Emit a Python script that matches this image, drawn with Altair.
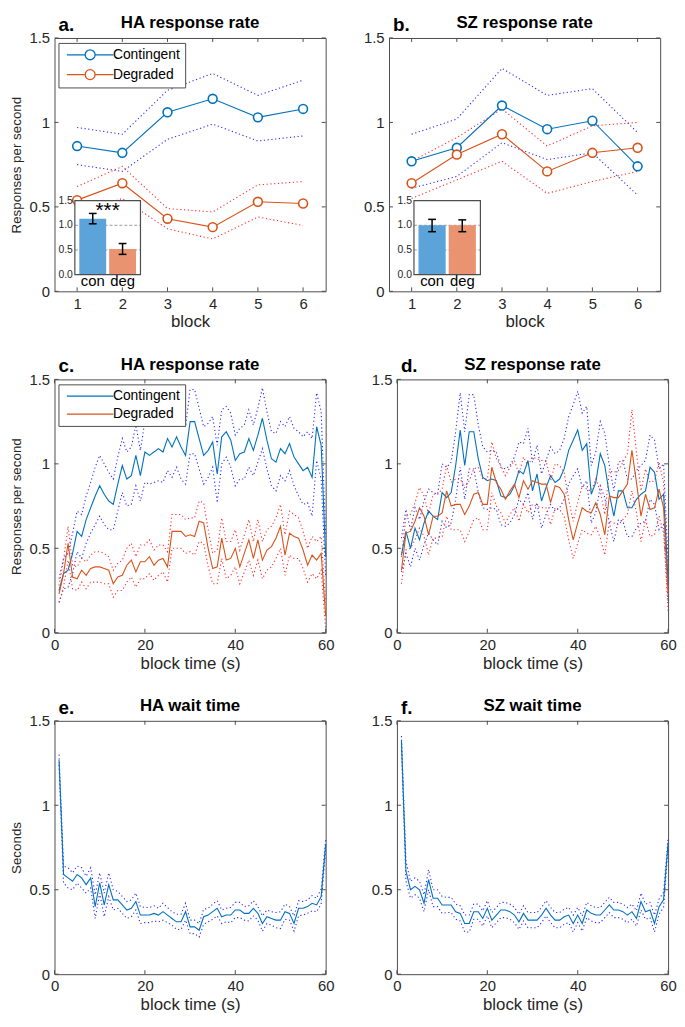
import altair as alt
import pandas as pd

FONT = "Liberation Sans"
INK = "#262626"
FRAME = "#4d4d4d"
BLUE = "#0072BD"
ORANGE = "#D95319"
BAND_BLUE = "#2a2aff"
BAND_RED = "#ff2a2a"
INSET_BLUE = "#5BA3D9"
INSET_ORANGE = "#EA9370"
W, H = 274, 256

# ---------------- data ----------------
blocks = [1, 2, 3, 4, 5, 6]
a_con = [0.86, 0.82, 1.06, 1.14, 1.03, 1.08]
a_con_hi = [0.97, 0.93, 1.19, 1.29, 1.16, 1.25]
a_con_lo = [0.75, 0.71, 0.90, 0.99, 0.89, 0.92]
a_deg = [0.54, 0.64, 0.43, 0.38, 0.53, 0.52]
a_deg_hi = [0.62, 0.74, 0.49, 0.47, 0.63, 0.65]
a_deg_lo = [0.46, 0.55, 0.37, 0.31, 0.44, 0.39]

b_con = [0.77, 0.85, 1.10, 0.96, 1.01, 0.74]
b_con_hi = [0.93, 1.02, 1.32, 1.16, 1.20, 0.94]
b_con_lo = [0.61, 0.68, 0.88, 0.78, 0.82, 0.57]
b_deg = [0.64, 0.81, 0.93, 0.71, 0.82, 0.85]
b_deg_hi = [0.77, 0.91, 1.08, 0.86, 0.98, 1.00]
b_deg_lo = [0.55, 0.66, 0.77, 0.58, 0.65, 0.71]

inset_cats = ["con", "deg"]
a_inset_mean = [1.13, 0.52]
a_inset_lo = [1.03, 0.41]
a_inset_hi = [1.24, 0.63]
b_inset_mean = [1.00, 1.00]
b_inset_lo = [0.87, 0.87]
b_inset_hi = [1.12, 1.11]
inset_ticks = [0.0, 0.5, 1.0, 1.5]
inset_tick_labels = ["0.0", "0.5", "1.0", "1.5"]

seconds = list(range(1, 61))
c_con = [0.25, 0.35, 0.37, 0.47, 0.60, 0.57, 0.67, 0.74, 0.81, 0.87,
         0.82, 0.78, 0.76, 0.88, 0.99, 0.91, 0.93, 1.05, 0.93, 1.07,
         1.05, 1.07, 1.09, 1.07, 1.15, 1.10, 1.16, 1.10, 1.05, 1.25,
         1.25, 1.15, 1.05, 1.08, 1.13, 0.94, 1.16, 1.19, 1.14, 1.02,
         1.06, 1.07, 1.15, 1.08, 1.17, 1.27, 1.14, 1.03, 1.01, 1.09,
         1.06, 1.12, 1.04, 1.00, 0.96, 0.98, 0.92, 1.22, 1.11, 0.45]
c_con_sem = [0.07, 0.09, 0.10, 0.12, 0.12, 0.13, 0.14, 0.15, 0.17, 0.18,
             0.18, 0.17, 0.15, 0.16, 0.16, 0.16, 0.17, 0.18, 0.15, 0.18,
             0.17, 0.18, 0.19, 0.18, 0.19, 0.18, 0.18, 0.19, 0.17, 0.19,
             0.19, 0.18, 0.17, 0.16, 0.15, 0.17, 0.16, 0.15, 0.16, 0.15,
             0.15, 0.16, 0.17, 0.15, 0.16, 0.18, 0.17, 0.16, 0.17, 0.16,
             0.16, 0.16, 0.17, 0.19, 0.20, 0.21, 0.23, 0.20, 0.20, 0.12]
c_deg = [0.23, 0.35, 0.53, 0.33, 0.32, 0.37, 0.34, 0.38, 0.39, 0.39,
         0.38, 0.37, 0.29, 0.33, 0.34, 0.40, 0.43, 0.36, 0.42, 0.42,
         0.45, 0.40, 0.43, 0.44, 0.39, 0.60, 0.60, 0.60, 0.57, 0.58,
         0.57, 0.66, 0.65, 0.50, 0.38, 0.39, 0.56, 0.43, 0.44, 0.50,
         0.39, 0.47, 0.55, 0.44, 0.55, 0.43, 0.49, 0.51, 0.56, 0.63,
         0.46, 0.59, 0.57, 0.56, 0.49, 0.40, 0.46, 0.43, 0.47, 0.10]
c_deg_sem = [0.05, 0.08, 0.10, 0.07, 0.07, 0.07, 0.08, 0.08, 0.09, 0.09,
             0.09, 0.08, 0.08, 0.08, 0.09, 0.10, 0.10, 0.09, 0.10, 0.10,
             0.10, 0.09, 0.09, 0.08, 0.09, 0.10, 0.10, 0.10, 0.10, 0.10,
             0.11, 0.12, 0.12, 0.11, 0.09, 0.10, 0.12, 0.11, 0.10, 0.11,
             0.10, 0.11, 0.12, 0.10, 0.12, 0.11, 0.12, 0.12, 0.12, 0.13,
             0.12, 0.13, 0.13, 0.12, 0.11, 0.10, 0.11, 0.11, 0.10, 0.08]

d_con = [0.46, 0.60, 0.50, 0.62, 0.55, 0.65, 0.72, 0.69, 0.67, 0.83,
         0.80, 0.83, 0.99, 1.20, 0.99, 1.19, 1.19, 1.03, 0.92, 0.90,
         0.91, 0.90, 0.81, 0.80, 0.82, 0.87, 0.96, 0.94, 1.02, 0.84,
         0.94, 0.78, 0.86, 0.93, 0.89, 0.91, 0.97, 1.08, 1.14, 1.20,
         1.08, 1.12, 0.82, 0.89, 1.06, 0.99, 0.82, 0.69, 0.84, 0.84,
         0.74, 0.74, 0.79, 0.82, 0.84, 0.98, 0.95, 0.79, 0.82, 0.30]
d_con_sem = [0.10, 0.13, 0.11, 0.12, 0.12, 0.13, 0.13, 0.14, 0.15, 0.17,
             0.18, 0.18, 0.20, 0.22, 0.20, 0.22, 0.22, 0.20, 0.18, 0.17,
             0.17, 0.17, 0.17, 0.17, 0.17, 0.17, 0.17, 0.18, 0.19, 0.17,
             0.17, 0.16, 0.16, 0.17, 0.17, 0.17, 0.18, 0.20, 0.21, 0.23,
             0.22, 0.22, 0.17, 0.18, 0.19, 0.19, 0.17, 0.15, 0.17, 0.18,
             0.17, 0.17, 0.17, 0.17, 0.18, 0.19, 0.19, 0.18, 0.18, 0.12]
d_deg = [0.37, 0.59, 0.60, 0.66, 0.74, 0.69, 0.58, 0.69, 0.69, 0.71,
         0.84, 0.75, 0.76, 0.76, 0.70, 0.75, 0.82, 0.83, 0.76, 0.76,
         0.98, 0.89, 0.85, 0.79, 0.84, 0.88, 0.80, 0.90, 0.85, 0.90,
         0.89, 0.88, 0.88, 0.77, 0.87, 0.86, 0.82, 0.67, 0.55, 0.65,
         0.74, 0.72, 0.71, 0.77, 0.70, 0.58, 0.81, 0.80, 0.80, 0.84,
         0.88, 1.08, 0.89, 0.69, 0.82, 0.73, 0.74, 0.85, 0.74, 0.23]
d_deg_sem = [0.08, 0.10, 0.10, 0.11, 0.12, 0.12, 0.12, 0.13, 0.13, 0.14,
             0.15, 0.14, 0.15, 0.15, 0.16, 0.15, 0.15, 0.15, 0.15, 0.15,
             0.15, 0.14, 0.14, 0.14, 0.14, 0.14, 0.14, 0.14, 0.14, 0.14,
             0.14, 0.14, 0.14, 0.13, 0.13, 0.13, 0.13, 0.12, 0.11, 0.12,
             0.13, 0.13, 0.13, 0.14, 0.14, 0.12, 0.15, 0.15, 0.16, 0.17,
             0.18, 0.24, 0.18, 0.15, 0.15, 0.16, 0.16, 0.16, 0.15, 0.10]

e_mean = [1.27, 0.59, 0.57, 0.55, 0.59, 0.57, 0.53, 0.57, 0.40, 0.54,
          0.41, 0.53, 0.44, 0.44, 0.41, 0.38, 0.39, 0.43, 0.35, 0.35,
          0.35, 0.36, 0.35, 0.37, 0.35, 0.33, 0.31, 0.31, 0.37, 0.28,
          0.28, 0.26, 0.34, 0.35, 0.37, 0.39, 0.34, 0.35, 0.35, 0.38,
          0.38, 0.36, 0.36, 0.39, 0.36, 0.30, 0.34, 0.33, 0.32, 0.32,
          0.37, 0.36, 0.30, 0.39, 0.39, 0.40, 0.42, 0.41, 0.46, 0.77]
e_sem = [0.03, 0.05, 0.06, 0.05, 0.05, 0.06, 0.05, 0.06, 0.07, 0.06,
         0.07, 0.07, 0.06, 0.05, 0.05, 0.05, 0.05, 0.05, 0.05, 0.045,
         0.045, 0.045, 0.04, 0.05, 0.045, 0.04, 0.045, 0.045, 0.05, 0.04,
         0.04, 0.04, 0.045, 0.04, 0.045, 0.045, 0.04, 0.04, 0.045, 0.045,
         0.045, 0.04, 0.045, 0.045, 0.04, 0.045, 0.04, 0.04, 0.045, 0.05,
         0.045, 0.04, 0.045, 0.045, 0.04, 0.04, 0.045, 0.04, 0.045, 0.03]
f_mean = [1.38, 0.61, 0.50, 0.52, 0.50, 0.42, 0.56, 0.45, 0.45, 0.41,
          0.41, 0.41, 0.37, 0.36, 0.30, 0.30, 0.37, 0.37, 0.33, 0.39,
          0.32, 0.35, 0.38, 0.38, 0.37, 0.35, 0.31, 0.36, 0.32, 0.32,
          0.32, 0.35, 0.39, 0.35, 0.32, 0.32, 0.34, 0.35, 0.30, 0.35,
          0.30, 0.38, 0.36, 0.35, 0.35, 0.38, 0.41, 0.38, 0.38, 0.37,
          0.35, 0.37, 0.33, 0.43, 0.37, 0.38, 0.30, 0.40, 0.44, 0.78]
f_sem = [0.03, 0.06, 0.05, 0.05, 0.05, 0.05, 0.06, 0.05, 0.05, 0.05,
         0.045, 0.045, 0.045, 0.045, 0.05, 0.05, 0.045, 0.045, 0.045, 0.045,
         0.045, 0.045, 0.045, 0.045, 0.045, 0.045, 0.045, 0.045, 0.045, 0.045,
         0.045, 0.045, 0.045, 0.045, 0.045, 0.045, 0.045, 0.045, 0.05, 0.045,
         0.045, 0.045, 0.045, 0.045, 0.045, 0.045, 0.045, 0.045, 0.045, 0.045,
         0.045, 0.045, 0.045, 0.05, 0.045, 0.045, 0.05, 0.045, 0.045, 0.03]

y_ticks = [0, 0.5, 1, 1.5]
block_ticks = [1, 2, 3, 4, 5, 6]
time_ticks = [0, 20, 40, 60]

CONDS = ["Contingent", "Degraded"]


def long_df(x, series):
    rows = []
    for (cond, kind), ys in series.items():
        for xi, yi in zip(x, ys):
            rows.append({"x": xi, "y": yi, "cond": cond, "kind": kind})
    return pd.DataFrame(rows)


def band(mean, sem, sign):
    return [m + sign * s for m, s in zip(mean, sem)]


df_a = long_df(blocks, {
    ("Contingent", "mean"): a_con, ("Contingent", "hi"): a_con_hi, ("Contingent", "lo"): a_con_lo,
    ("Degraded", "mean"): a_deg, ("Degraded", "hi"): a_deg_hi, ("Degraded", "lo"): a_deg_lo})
df_b = long_df(blocks, {
    ("Contingent", "mean"): b_con, ("Contingent", "hi"): b_con_hi, ("Contingent", "lo"): b_con_lo,
    ("Degraded", "mean"): b_deg, ("Degraded", "hi"): b_deg_hi, ("Degraded", "lo"): b_deg_lo})
df_c = long_df(seconds, {
    ("Contingent", "mean"): c_con, ("Contingent", "hi"): band(c_con, c_con_sem, 1),
    ("Contingent", "lo"): band(c_con, c_con_sem, -1),
    ("Degraded", "mean"): c_deg, ("Degraded", "hi"): band(c_deg, c_deg_sem, 1),
    ("Degraded", "lo"): band(c_deg, c_deg_sem, -1)})
df_d = long_df(seconds, {
    ("Contingent", "mean"): d_con, ("Contingent", "hi"): band(d_con, d_con_sem, 1),
    ("Contingent", "lo"): band(d_con, d_con_sem, -1),
    ("Degraded", "mean"): d_deg, ("Degraded", "hi"): band(d_deg, d_deg_sem, 1),
    ("Degraded", "lo"): band(d_deg, d_deg_sem, -1)})
df_e = long_df(seconds, {
    ("Contingent", "mean"): e_mean, ("Contingent", "hi"): band(e_mean, e_sem, 1),
    ("Contingent", "lo"): band(e_mean, e_sem, -1)})
df_f = long_df(seconds, {
    ("Contingent", "mean"): f_mean, ("Contingent", "hi"): band(f_mean, f_sem, 1),
    ("Contingent", "lo"): band(f_mean, f_sem, -1)})

LEG_CIRCLE = "M-4.7,0H-1M1,0A1,1,0,1,1,-1,0A1,1,0,1,1,1,0M1,0H4.7"
LEG_LINE = "M-4.7,0H4.7"

Y_LABELS = "datum.value == 0 ? '0' : datum.value == 1 ? '1' : format(datum.value, '.1f')"


def make_legend(path):
    return alt.Legend(orient="none", legendX=4, legendY=5, title=None,
                      symbolType=path, symbolSize=100, symbolStrokeWidth=1.3,
                      symbolFillColor="white", symbolOffset=20, labelOffset=16,
                      labelFont=FONT, labelFontSize=14, labelColor="black",
                      strokeColor=FRAME, fillColor="white", padding=5,
                      rowPadding=4, cornerRadius=0)


def build_main(df, letter, title, xdom, xticks, xtitle, ytitle, legend_path, markers, conds):
    xs = alt.Scale(domain=xdom, nice=False, zero=False)
    ys = alt.Scale(domain=[0, 1.5], nice=False, zero=False)
    common = dict(labelFont=FONT, labelFontSize=15, labelColor=INK, labelPadding=5,
                  ticks=False, domain=False, grid=False, titleFont=FONT,
                  titleFontWeight="normal", titleColor=INK, labelOverlap=False)
    xaxis = alt.Axis(values=xticks, format="d", title=xtitle, titleFontSize=17,
                     titlePadding=3, labelFlush=False, **common)
    yaxis = alt.Axis(values=y_ticks, labelExpr=Y_LABELS, title=ytitle, titleFontSize=13.5,
                     titlePadding=6, **common)

    def X(f="x"):
        return alt.X(f, type="quantitative", scale=xs, axis=xaxis)

    def Y(f="y"):
        return alt.Y(f, type="quantitative", scale=ys, axis=yaxis)

    def colour(legend):
        return alt.Color("cond:N", scale=alt.Scale(domain=CONDS, range=[BLUE, ORANGE]),
                         legend=legend)

    base = alt.Chart(df)
    layers = []
    for cond, col in [("Contingent", BAND_BLUE), ("Degraded", BAND_RED)]:
        if cond in conds:
            layers.append(
                base.transform_filter((alt.datum.cond == cond) & (alt.datum.kind != "mean"))
                .mark_line(color=col, strokeWidth=1.1, strokeDash=[1.2, 2.6])
                .encode(x=X(), y=Y(), detail="kind:N"))
    leg = make_legend(legend_path) if legend_path else None
    layers.append(base.transform_filter(alt.datum.kind == "mean")
                  .mark_line(strokeWidth=1.1)
                  .encode(x=X(), y=Y(), color=colour(leg)))
    if markers:
        layers.append(base.transform_filter(alt.datum.kind == "mean")
                      .mark_point(shape="circle", size=80, strokeWidth=1.6, filled=False, opacity=1)
                      .encode(x=X(), y=Y(), color=colour(None), fill=alt.value("white")))
    xt = alt.Chart(pd.DataFrame({"x": xticks}))
    yt = alt.Chart(pd.DataFrame({"y": y_ticks}))
    layers += [
        xt.mark_rule(color=FRAME).encode(x=X(), y=alt.value(H), y2=alt.value(H - 4)),
        xt.mark_rule(color=FRAME).encode(x=X(), y=alt.value(0), y2=alt.value(4)),
        yt.mark_rule(color=FRAME).encode(y=Y(), x=alt.value(0), x2=alt.value(4)),
        yt.mark_rule(color=FRAME).encode(y=Y(), x=alt.value(W), x2=alt.value(W - 4)),
    ]
    layers.append(alt.Chart(pd.DataFrame({"t": [letter]}))
                  .mark_text(align="left", baseline="alphabetic", font=FONT, fontSize=19,
                             fontWeight="bold", color="black")
                  .encode(text="t:N", x=alt.value(4), y=alt.value(-7)))
    layers.append(alt.Chart(pd.DataFrame({"t": [title]}))
                  .mark_text(align="center", baseline="alphabetic", font=FONT, fontSize=17,
                             fontWeight="bold", color="black")
                  .encode(text="t:N", x=alt.value(W / 2), y=alt.value(-10)))
    return alt.layer(*layers)


def build_inset(frac, means, los, his, stars):
    L, R, T, B = frac[0] * W, frac[1] * W, frac[2] * H, frac[3] * H
    xlim = [0.4, 2.6]
    ylim = [0.0, 1.5]
    ux = (xlim[1] - xlim[0]) / (R - L)
    uy = (ylim[1] - ylim[0]) / (B - T)
    xs = alt.Scale(domain=[xlim[0] - L * ux, xlim[0] + (W - L) * ux], nice=False, zero=False)
    ys = alt.Scale(domain=[ylim[0] - (H - B) * uy, ylim[1] + T * uy], nice=False, zero=False)

    def IX(f):
        return alt.X(f, type="quantitative", scale=xs, axis=None)

    def IY(f):
        return alt.Y(f, type="quantitative", scale=ys, axis=None)

    box = alt.Chart(pd.DataFrame({"x0": [xlim[0]], "x1": [xlim[1]], "y0": [ylim[0]], "y1": [ylim[1]]}))
    bars = pd.DataFrame({"xb": [1, 2], "m": means, "lo": los, "hi": his, "cat": inset_cats})
    bc = (alt.Chart(bars)
          .transform_calculate(xl="datum.xb - 0.45", xr="datum.xb + 0.45", base="0",
                               cl="datum.xb - 0.13", cr="datum.xb + 0.13"))
    grid = alt.Chart(pd.DataFrame({"g": [0.5, 1.0], "x0": [xlim[0]] * 2, "x1": [xlim[1]] * 2}))
    ticks = alt.Chart(pd.DataFrame({"v": inset_ticks, "lab": inset_tick_labels,
                                    "x0": [xlim[0]] * 4}))
    layers = [
        box.mark_rect(fill="white").encode(x=IX("x0"), x2="x1", y=IY("y0"), y2="y1"),
        grid.mark_rule(color="#9a9a9a", strokeDash=[3, 2], strokeWidth=1)
            .encode(x=IX("x0"), x2="x1", y=IY("g")),
        bc.transform_filter(alt.datum.cat == "con").mark_rect(color=INSET_BLUE)
          .encode(x=IX("xl:Q"), x2="xr:Q", y=IY("base:Q"), y2="m"),
        bc.transform_filter(alt.datum.cat == "deg").mark_rect(color=INSET_ORANGE)
          .encode(x=IX("xl:Q"), x2="xr:Q", y=IY("base:Q"), y2="m"),
        bc.mark_rule(color="black", strokeWidth=1.5).encode(x=IX("xb"), y=IY("lo"), y2="hi"),
        bc.mark_rule(color="black", strokeWidth=1.5).encode(x=IX("cl:Q"), x2="cr:Q", y=IY("lo")),
        bc.mark_rule(color="black", strokeWidth=1.5).encode(x=IX("cl:Q"), x2="cr:Q", y=IY("hi")),
        box.mark_rect(fillOpacity=0, stroke=FRAME, strokeWidth=1.2)
           .encode(x=IX("x0"), x2="x1", y=IY("y0"), y2="y1"),
        ticks.mark_text(align="right", baseline="middle", dx=-2, font=FONT, fontSize=10.5, color=INK)
             .encode(x=IX("x0"), y=IY("v"), text="lab:N"),
        bc.transform_calculate(zero="0")
          .mark_text(align="center", baseline="top", dy=0, font=FONT, fontSize=15, color="black")
          .encode(x=IX("xb"), y=IY("zero:Q"), text="cat:N"),
    ]
    if stars:
        layers.append(alt.Chart(pd.DataFrame({"xs": [1.5], "ys": [1.5], "s": [stars]}))
                      .mark_text(align="center", baseline="top", font=FONT, fontSize=21, color="black")
                      .encode(x=IX("xs"), y=IY("ys"), text="s:N"))
    return alt.layer(*layers)


def panel(main, inset=None):
    if inset is None:
        return main.properties(width=W, height=H)
    return (alt.layer(main, inset)
            .resolve_scale(x="independent", y="independent")
            .properties(width=W, height=H))


pa = panel(build_main(df_a, "a.", "HA response rate", [0.5, 6.5], block_ticks, "block",
                      "Responses per second", LEG_CIRCLE, True, CONDS),
           build_inset([0.075, 0.317, 0.642, 0.934], a_inset_mean, a_inset_lo, a_inset_hi, "***"))
pb = panel(build_main(df_b, "b.", "SZ response rate", [0.5, 6.5], block_ticks, "block",
                      None, None, True, CONDS),
           build_inset([0.092, 0.337, 0.642, 0.934], b_inset_mean, b_inset_lo, b_inset_hi, None))
pc = panel(build_main(df_c, "c.", "HA response rate", [0, 60], time_ticks, "block time (s)",
                      "Responses per second", LEG_LINE, False, CONDS))
pd_ = panel(build_main(df_d, "d.", "SZ response rate", [0, 60], time_ticks, "block time (s)",
                       None, None, False, CONDS))
pe = panel(build_main(df_e, "e.", "HA wait time", [0, 60], time_ticks, "block time (s)",
                      "Seconds", None, False, ["Contingent"]))
pf = panel(build_main(df_f, "f.", "SZ wait time", [0, 60], time_ticks, "block time (s)",
                      None, None, False, ["Contingent"]))


def row(l, r):
    return (alt.hconcat(l, r, spacing=36)
            .resolve_scale(color="independent")
            .resolve_legend(color="independent"))


chart = (alt.vconcat(row(pa, pb), row(pc, pd_), row(pe, pf), spacing=24)
         .resolve_scale(color="independent")
         .resolve_legend(color="independent")
         .properties(padding={"left": 0, "right": 0, "top": 0, "bottom": 0})
         .configure_view(stroke=FRAME, strokeWidth=1))

chart.save("out.html", embed_options={"renderer": "svg", "actions": False})
